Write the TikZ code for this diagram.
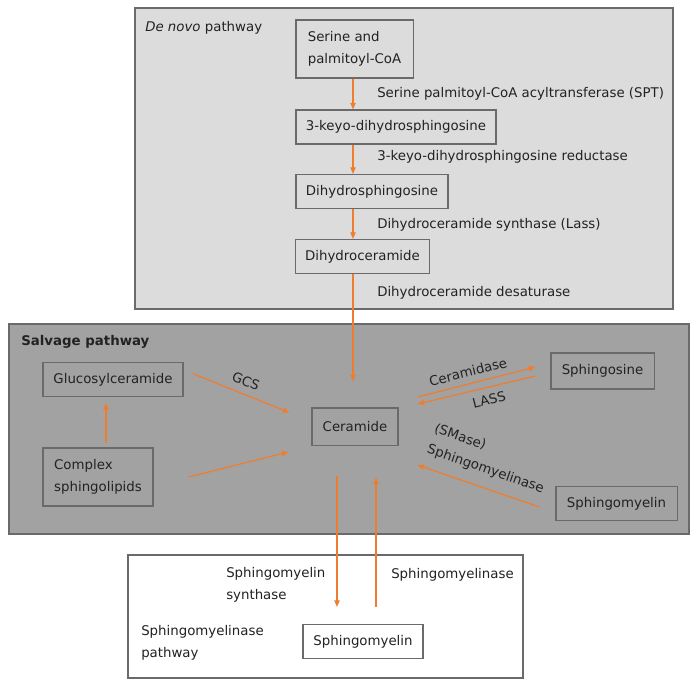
\documentclass[tikz,border=0pt]{standalone}
\usepackage{fontspec}
\setmainfont{DejaVu Sans}
\usetikzlibrary{arrows.meta,calc}
\definecolor{flowor}{HTML}{F07D2D}
\definecolor{boxgray}{HTML}{6A6A6A}
\definecolor{denovofill}{HTML}{DCDCDC}
\definecolor{salvagefill}{HTML}{A2A2A2}
\definecolor{inkgray}{HTML}{222222}
\tikzset{box/.style={draw=boxgray,line width=0.8pt,inner sep=0pt,minimum height=25.5pt,
		align=left,text=inkgray,font=\fontsize{10}{16.5}\selectfont},
	enz/.style={anchor=west,inner sep=0pt,text=inkgray,font=\fontsize{10}{16.5}\selectfont},
	region/.style={draw=boxgray,line width=1pt},
	flow/.style={draw=flowor,line width=0.9pt,-{Triangle[length=5pt,width=4pt]}}}

\begin{document}
\begin{tikzpicture}
	[x=0.75pt,y=-0.75pt]
	\useasboundingbox (0,0) rectangle (699,688);
	% the three pathways
	\draw[region,fill=denovofill] (135,8) rectangle (673,309);
	\draw[region,fill=salvagefill] (9,324) rectangle (689,534);
	\draw[region,fill=white] (128,555) rectangle (523,678);
	\node[enz] (denovo) at (145,28) {\textit{De novo} pathway};
	\node[enz,font=\fontsize{10}{16.5}\selectfont\bfseries] (salvage) at (21,342) {Salvage pathway};
	\node[enz,align=left] (smpath) at (141,643) {Sphingomyelinase\\pathway};

	% de novo
	\node[box,minimum width=87.8pt,minimum height=43.5pt] (serine) at (354.5,49) {Serine and\\palmitoyl-CoA};
	\node[box,minimum width=150pt] (keto) at (396,127) {3-keyo-dihydrosphingosine};
	\node[box,minimum width=114pt] (dhs) at (372,191.5) {Dihydrosphingosine};
	\node[box,minimum width=100pt] (dhc) at (362.5,256.5) {Dihydroceramide};
	\node[enz] (spt) at (377,94) {Serine palmitoyl-CoA acyltransferase (SPT)};
	\node[enz] (ketored) at (377,157) {3-keyo-dihydrosphingosine reductase};
	\node[enz] (lass) at (377,225) {Dihydroceramide synthase (Lass)};
	\node[enz] (desat) at (377,293) {Dihydroceramide desaturase};
	\draw[flow] (serine.south -| 353,0) -- (keto.north -| 353,0);
	\draw[flow] (keto.south -| 353,0) -- (dhs.north -| 353,0);
	\draw[flow] (dhs.south -| 353,0) -- (dhc.north -| 353,0);

	% salvage
	\node[box,minimum width=64.5pt,minimum height=27.8pt] (ceramide) at (355,426.5) {Ceramide};
	\node[box,minimum width=105pt] (glucosyl) at (113,379.5) {Glucosylceramide};
	\node[box,minimum width=82.5pt,minimum height=43.5pt] (complex) at (98,477) {Complex\\sphingolipids};
	\node[box,minimum width=77.3pt,minimum height=27pt] (sphingosine) at (602.5,371) {Sphingosine};
	\node[box,minimum width=90.8pt] (smsalv) at (616.5,503.5) {Sphingomyelin};
	\draw[flow] (dhc.south -| 353,0) -- ($(ceramide.north -| 353,0)+(0,-26)$);
	\draw[flow] ($(glucosyl.east)+(9,-6)$) -- ($(ceramide.west)+(-22,-14)$);
	\draw[flow] ($(complex.east)+(35,0)$) -- ($(ceramide.west)+(-23,25.5)$);
	\draw[flow] ($(complex.north)+(8,-4)$) -- ($(glucosyl.south)+(-7,6)$);
	\draw[flow] ($(ceramide.east)+(19,-29.5)$) -- ($(sphingosine.west)+(-15,-4)$);
	\draw[flow] ($(sphingosine.west)+(-15,5)$) -- ($(ceramide.east)+(19,-22.5)$);
	\draw[flow] ($(smsalv.west)+(-16,3.5)$) -- ($(ceramide.east)+(19,38.5)$);
	\node[enz,anchor=center,rotate=-22] (gcs) at (246,381) {GCS};
	\node[enz,anchor=center,rotate=14] (ceramidase) at (468,372) {Ceramidase};
	\node[enz,anchor=center,rotate=14] (lassrev) at (489,400) {LASS};
	\node[enz,anchor=center,align=left,rotate=-19] (smase) at (489,459) {(SMase)\\Sphingomyelinase};

	% sphingomyelinase pathway
	\node[box,minimum width=90pt,fill=white] (smbottom) at (363,641.5) {Sphingomyelin};
	\draw[flow] ($(ceramide.south)+(-18,30)$) -- ($(smbottom.north)+(-26,-17)$);
	\draw[flow] ($(smbottom.north)+(13,-17)$) -- ($(ceramide.south)+(21,32)$);
	\node[enz,align=left] (smsynth) at (226,585) {Sphingomyelin\\synthase};
	\node[enz] (smasebottom) at (391,575) {Sphingomyelinase};
\end{tikzpicture}
\end{document}
